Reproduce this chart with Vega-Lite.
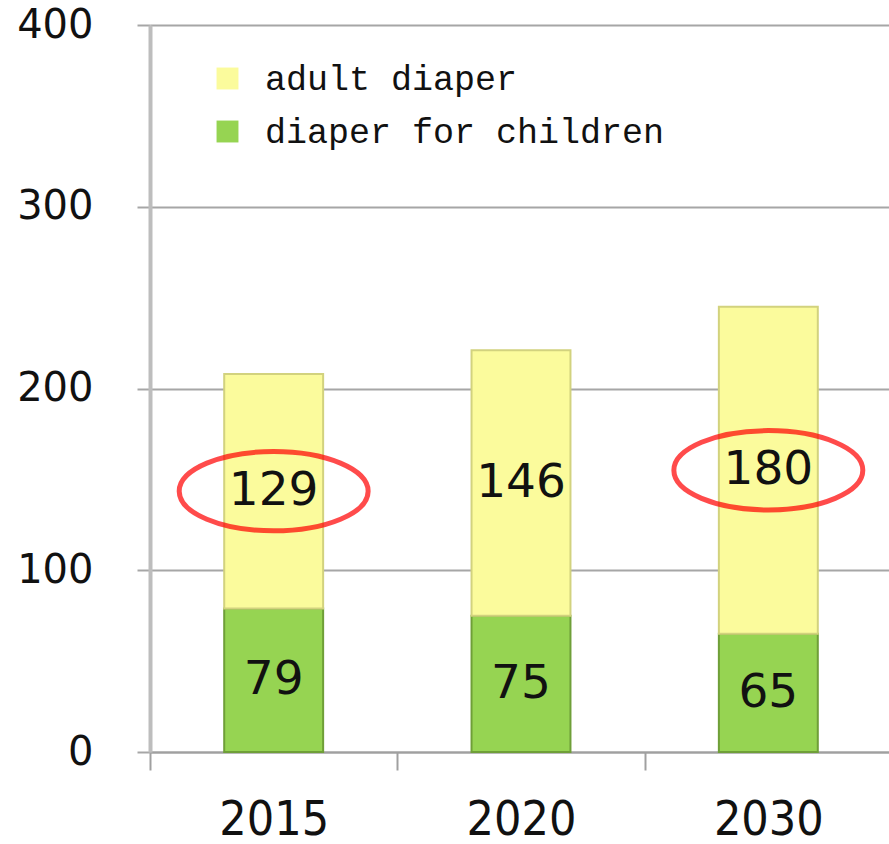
{
  "$schema": "https://vega.github.io/schema/vega-lite/v6.json",
  "autosize": "none",
  "width": 742,
  "height": 727,
  "padding": {"left": 150, "top": 25, "right": 0, "bottom": 92},
  "background": "white",
  "config": {"view": {"stroke": null}},
  "data": {
    "values": [
      {"year": "2015", "type": "diaper for children", "value": 79},
      {"year": "2015", "type": "adult diaper", "value": 129},
      {"year": "2020", "type": "diaper for children", "value": 75},
      {"year": "2020", "type": "adult diaper", "value": 146},
      {"year": "2030", "type": "diaper for children", "value": 65},
      {"year": "2030", "type": "adult diaper", "value": 180}
    ]
  },
  "encoding": {
    "x": {
      "field": "year",
      "type": "nominal",
      "scale": {"paddingInner": 0, "paddingOuter": 0},
      "axis": {
        "title": null,
        "labelAngle": 0,
        "tickBand": "extent",
        "domainColor": "#a0a0a0",
        "domainWidth": 2,
        "tickColor": "#a0a0a0",
        "tickWidth": 2,
        "tickSize": 18,
        "labelFont": "DejaVu Sans Condensed",
        "labelFontSize": 48,
        "labelColor": "#111111",
        "labelPadding": 26,
        "grid": false
      }
    }
  },
  "layer": [
    {
      "mark": {"type": "bar", "width": {"band": 0.4}, "strokeWidth": 2},
      "encoding": {
        "y": {
          "field": "value",
          "type": "quantitative",
          "stack": "zero",
          "scale": {"domain": [0, 400]},
          "axis": {
            "title": null,
            "values": [0, 100, 200, 300, 400],
            "grid": true,
            "gridColor": "#a6a6a6",
            "gridWidth": 2,
            "domainColor": "#bdbdbd",
            "domainWidth": 4,
            "tickColor": "#a6a6a6",
            "tickWidth": 2,
            "tickSize": 13,
            "labelFont": "DejaVu Sans",
            "labelFontSize": 40,
            "labelColor": "#111111",
            "labelPadding": 44
          }
        },
        "color": {
          "field": "type",
          "type": "nominal",
          "scale": {"domain": ["adult diaper", "diaper for children"], "range": ["#fbfb9c", "#96d452"]},
          "legend": {
            "title": null,
            "orient": "none",
            "legendX": 60,
            "legendY": 36,
            "symbolType": "square",
            "symbolSize": 480,
            "symbolStrokeWidth": 0,
            "labelFont": "Liberation Mono",
            "labelFontSize": 35,
            "labelLimit": 0,
            "labelColor": "#111111",
            "labelOffset": 20,
            "rowPadding": 17,
            "padding": 0
          }
        },
        "stroke": {
          "field": "type",
          "type": "nominal",
          "scale": {"domain": ["adult diaper", "diaper for children"], "range": ["#d2d27e", "#6f9f38"]},
          "legend": null
        },
        "order": {"field": "type", "sort": "descending"}
      }
    },
    {
      "mark": {"type": "text", "font": "DejaVu Sans", "fontSize": 47, "color": "#111111", "baseline": "middle"},
      "encoding": {
        "y": {"field": "value", "type": "quantitative", "stack": "zero", "bandPosition": 0.5},
        "text": {"field": "value", "type": "quantitative"},
        "order": {"field": "type", "sort": "descending"}
      }
    },
    {
      "mark": {"type": "point", "shape": "M -1 0 A 1 0.42 0 1 0 1 0 A 1 0.42 0 1 0 -1 0 Z", "size": 35700, "filled": false, "strokeWidth": 5, "color": "#ff0000"},
      "encoding": {
        "y": {"field": "value", "type": "quantitative", "stack": "zero", "bandPosition": 0.5},
        "order": {"field": "type", "sort": "descending"},
        "strokeOpacity": {
          "condition": {"test": "datum.type === 'adult diaper' && datum.year !== '2020'", "value": 1},
          "value": 0
        }
      }
    }
  ]
}
